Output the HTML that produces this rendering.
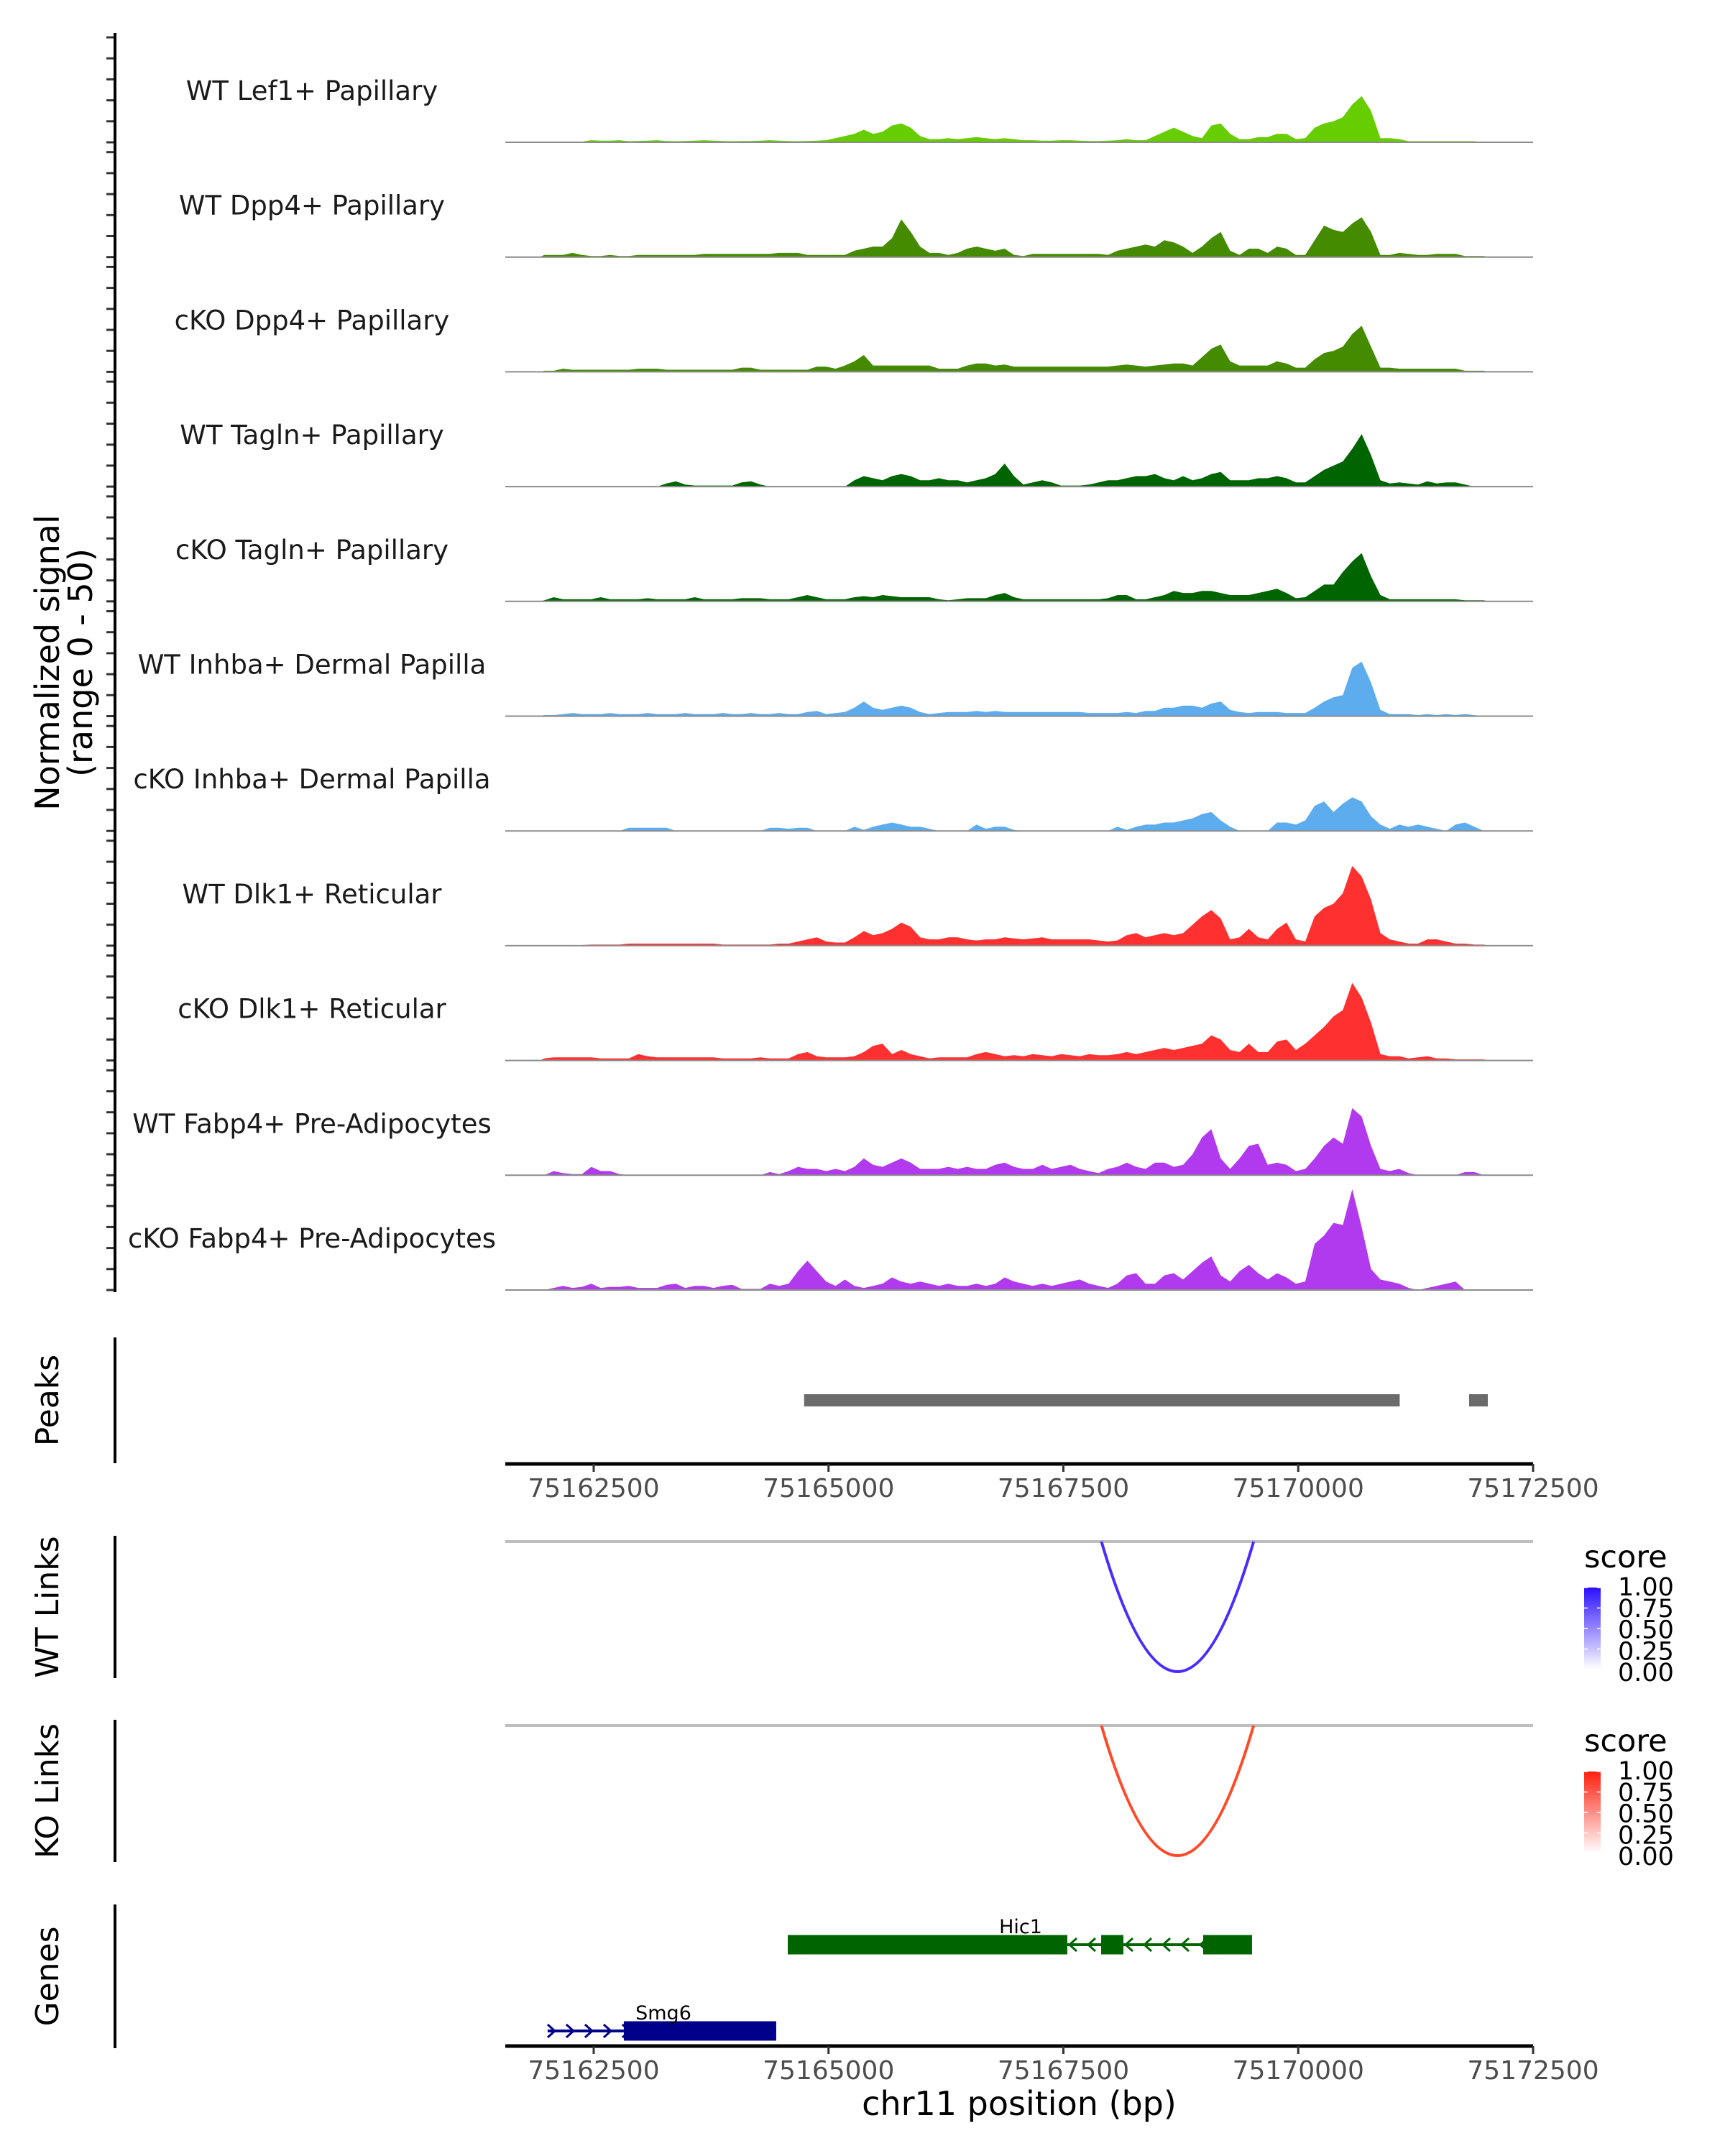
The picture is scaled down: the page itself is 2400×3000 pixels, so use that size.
<!DOCTYPE html>
<html><head><meta charset="utf-8">
<style>
html,body{margin:0;padding:0;background:#fff;}
svg{display:block;font-family:"DejaVu Sans","Liberation Sans",sans-serif;}
</style></head>
<body>
<svg id="chart" width="2400" height="3000" viewBox="0 0 2400 3000" xmlns="http://www.w3.org/2000/svg">
<rect x="0" y="0" width="2400" height="3000" fill="#fff"/>
<defs>
<linearGradient id="gBlue" x1="0" y1="1" x2="0" y2="0"><stop offset="0" stop-color="#ffffff"/><stop offset="1" stop-color="#2a10ff"/></linearGradient>
<linearGradient id="gRed" x1="0" y1="1" x2="0" y2="0"><stop offset="0" stop-color="#ffffff"/><stop offset="1" stop-color="#ff2010"/></linearGradient>
</defs>
<g id="tracks"></g>
<g id="yaxis"></g>
<text transform="translate(82,922) rotate(-90)" text-anchor="middle" font-size="46" fill="#000">Normalized signal</text>
<text transform="translate(128,922) rotate(-90)" text-anchor="middle" font-size="46" fill="#000">(range 0 - 50)</text>
<g id="lower"></g>
</svg>
<script>
// ---- data ----
const trackNames = ["WT Lef1+ Papillary","WT Dpp4+ Papillary","cKO Dpp4+ Papillary","WT Tagln+ Papillary","cKO Tagln+ Papillary","WT Inhba+ Dermal Papilla","cKO Inhba+ Dermal Papilla","WT Dlk1+ Reticular","cKO Dlk1+ Reticular","WT Fabp4+ Pre-Adipocytes","cKO Fabp4+ Pre-Adipocytes"];
const trackColors = ["#66cd00","#458b00","#458b00","#006400","#006400","#5cacee","#5cacee","#ff3030","#ff3030","#b23aee","#b23aee"];
const binStart = 75161925;
const binSize = 100;
const sigLef1WT = [.3,.3,.3,.3,.3,1,.8,.8,1,.5,.6,.8,1,.6,.5,.6,.8,1,.8,.6,.5,.6,.6,.8,1,.8,.6,.5,.6,.8,1,2,3,4,6,4,5,8,9,7,3,1.5,1.5,2,1.5,2,2.5,2,1.5,2,1.5,1,1,.8,.8,1,1,.8,.6,.6,.8,1,1.5,1,1,3,5,7,5,3,2,8,9,4,1.5,1.5,2.5,2.5,4,4,1.5,2,7,9,10,12,18,22,15,2,2,1.5,.5,.5,.5,.5,.5,.5,.5,.5,0];
const sigDpp4WT = [1,1,1,2,1,.5,.5,1,.5,.5,1,1,1,1,1,1,1,1.5,1.5,1.5,1.5,1.5,1.5,1.5,1.5,2,2,2,1,1,1,1,1,3,4,5,5,9,18,12,5,2,2,1,2,4,5,4,3,4,1,.5,1.5,1.5,1.5,1.5,1.5,1.5,1.5,1.5,1,3,4,5,6,5,8,7,5,2,5,9,12,3,1,4,4,2,5,4,1,1,8,15,13,12,16,19,12,1,1,2,1.5,1,1,1.5,1.5,1.5,.5,.5,.5];
const sigDpp4KO = [.5,.5,1.5,1,1,1,1,1,1,1,1.5,1.5,1.5,1,1,1,1,1,1,1,1,2,2,1,1,1,1,1,1,2.5,2.5,1.5,3,5,8,3,3,3,3,3,3,3,1.5,1.5,1.5,3,4,4,3,3.5,2.5,2.5,2.5,2.5,2.5,2.5,2.5,2.5,2.5,2.5,2.5,3,3.5,3,2.5,3,3.5,4,4,3,7,11,13,5,3,3,3,3,5,4,2,2,6,9,10,12,18,22,12,2,2,1.5,1.5,1.5,1.5,1.5,1.5,1.5,.5,.5,.5];
const sigTaglnWT = [0,0,0,0,0,0,0,0,0,0,0,0,0,1.5,2.5,1,.5,.5,.5,.5,.5,2,2.5,1,0,0,0,0,0,0,0,0,0,3,5,4,3,5,6,5,3,3,4,3,3,2,3,4,6,11,5,1,2,3,2,.5,.5,.5,1,2,3,3,4,5,5,6,4,3,5,3,4,6,7,3,3,3,4,4,5,4,2,2,5,8,10,12,18,25,15,3,1.5,2,1.5,1,2.5,1.5,2,2,1,0,0];
const sigTaglnKO = [.5,2,1,1,1,1,2,1,1,1,1,1.5,1,1,1,1,2,1,1,1,1,1.5,1.5,1.5,1,1,1,2,3,2,1,1,1,2,2.5,2,3,2.5,2,2,2,2,1,.5,1,1.5,1.5,1.5,3,4,2,1,1,1,1,1,1,1,1,1,1.5,3,3,1,1,2,3,5,4,4,5,5,4,3,3,3,4,5,6,4,1.5,2,5,8,8,14,19,23,12,3,1,1,1,1,1,1,1,1,.5,.5,.5];
const sigInhbaWT = [.5,.5,1,1.5,1,1,1,1.5,1,1,1,1.5,1,1,1,1.5,1,1,1,1.5,1,1,1.5,1,1,1.5,1,1,2,2.5,1,1.5,2,4,7,4,3,4,5,4,2,1,1.5,2,2,2,2.5,2,2.5,2,2,2,2,2,2,2,2,2,1.5,1.5,1.5,1.5,2,1.5,2.5,2.5,4,4,5,5,4,6,7,3,2,1.5,2,2,2,1.5,1.5,1.5,4,7,9,10,23,26,16,3,1,1,1,.5,1,.5,1,.5,1,.5,0];
const sigInhbaKO = [0,0,0,0,0,0,0,0,0,1.5,1.5,1.5,1.5,1.5,0,0,0,0,0,0,0,0,0,0,1.5,1.5,1,1.5,1.5,0,0,0,0,2,.5,2,3,4,3,2,2,1,0,0,0,0,3,1,2,2,.5,0,0,0,0,0,0,0,0,0,0,2,.5,2,3,3,4,4,5,6,8,9,5,2,0,0,0,0,4,4,3,5,12,14,9,13,16,14,7,3,1,3,2,3,2,1,0,3,4,2,0];
const sigDlk1WT = [.3,.3,.3,.3,.3,.5,.5,.5,.5,1,1,1,1,1,1,1,1,1,1,.5,.5,.5,.5,.5,.5,1,1,2,3,4,2,1.5,1.5,4,7,5,6,8,11,9,4,3,3,4,4,3,2.5,3,3,4,3.5,3,3.5,4,3,3,3,3,3,2.5,2,2.5,5,6,4,5,6,5,6,10,14,17,13,3,4,8,4,3,8,11,3,2,14,18,20,25,38,33,22,6,3,2,1,1,3,3,2,1,1,.5,.5];
const sigDlk1KO = [1,1.5,1.5,1.5,1.5,1.5,1,1,1,1,3,2,1.5,1.5,1.5,1.5,1.5,1.5,1.5,1,1,1,1,1.5,1,1,1,3,4,2,1.5,1.5,1.5,2,4,7,8,3,5,3,2,1,1.5,1.5,1.5,1.5,3,4,3,2,2.5,2,3,2.5,2,3,2.5,2,3,2.5,2.5,3,4,3,4,5,6,5,6,7,8,12,10,5,4,8,4,4,9,10,5,8,12,16,21,24,37,30,18,3,2,2,1,1.5,2,1,1,.5,.5,.5,.5];
const sigFabp4WT = [0,2,1,.5,.5,4,2,2,.5,0,0,0,0,0,0,0,0,0,0,0,0,0,0,0,1.5,.5,2,4,3,3,2,3,2,4,8,5,4,6,8,6,3,3,3,4,3,4,3,3,5,6,4,3,3,5,3,4,5,3,2,1,3,4,6,4,3,6,6,4,5,10,18,22,8,3,8,14,15,5,6,5,2,3,8,14,18,15,32,28,14,3,2,3,1,0,0,0,0,0,1.5,1.5,0];
const sigFabp4KO = [0,1,2,1,1.5,3,1,1.5,1.5,2,1,1,1,2.5,3,1,2,2,1,2,2.5,.5,.5,.5,3,2,3,9,14,9,4,2,5,2,1,2,3,6,4,3,4,3,2,3,2,2,3,2,3,6,4,3,2,3,2,3,4,5,3,2,1,3,7,8,3,3,7,8,5,9,13,16,7,4,9,12,8,5,8,6,3,4,22,26,32,31,48,30,10,5,4,3,1,0,1,2,3,4,0,0,0];
const trackSignals = [sigLef1WT,sigDpp4WT,sigDpp4KO,sigTaglnWT,sigTaglnKO,sigInhbaWT,sigInhbaKO,sigDlk1WT,sigDlk1KO,sigFabp4WT,sigFabp4KO];
const xTicks = [75162500,75165000,75167500,75170000,75172500];
const xTickLabels = ["75162500","75165000","75167500","75170000","75172500"];
const peakStarts = [75164740,75171819];
const peakEnds = [75171080,75172018];
const linkStarts = [75167905];
const linkEnds = [75169525];
const linkScores = [1.0];
const legendTicks = [0,0.25,0.5,0.75,1];
const legendTickLabels = ["0.00","0.25","0.50","0.75","1.00"];
const hic1Exons = [[75164566,75167542],[75167902,75168139],[75168988,75169508]];
const hic1Span = [75164566,75169508];
const smg6Exons = [[75162821,75164443]];
const smg6Span = [75162010,75164443];

// ---- scales ----
const NS = "http://www.w3.org/2000/svg";
const X0 = 703, X1 = 2133, BP0 = 75161559, BP1 = 75172500;
function xs(bp){ return X0 + (bp - BP0) / (BP1 - BP0) * (X1 - X0); }
const TRACK_H = 146, YMAX = 50;
function baseY(k){ return 198 + 159.7 * k; }
function ys(k, v){ return baseY(k) - Math.min(v, YMAX) / YMAX * TRACK_H; }
function mk(tag, attrs, parent){
  const e = document.createElementNS(NS, tag);
  for (const a in attrs) e.setAttribute(a, attrs[a]);
  parent.appendChild(e); return e;
}

// ---- coverage tracks ----
const tracksG = document.getElementById('tracks');
const yaxisG = document.getElementById('yaxis');
trackNames.forEach((name, k) => {
  const g = mk('g', {}, tracksG);
  
  
  const vals = trackSignals[k];
  const b = baseY(k);
  let d = 'M' + xs(binStart).toFixed(1) + ',' + b.toFixed(1);
  for (let i = 0; i < vals.length; i++) {
    const cx = xs(binStart + binSize * i + binSize / 2);
    d += ' L' + cx.toFixed(1) + ',' + ys(k, vals[i]).toFixed(1);
  }
  d += ' L' + xs(binStart + binSize * vals.length).toFixed(1) + ',' + b.toFixed(1) + ' Z';
  const area = mk('path', {d: d, fill: trackColors[k], stroke: 'none'}, g);
  
  
  const bl = mk('line', {x1: X0, x2: X1, y1: b, y2: b, stroke: '#8c8c8c', 'stroke-width': 2}, g);
  
  
  const t = mk('text', {x: 434, y: (b - 59).toFixed(1), 'text-anchor': 'middle', 'font-size': 37, fill: '#1a1a1a'}, g);
  t.textContent = name;
  
  
  for (let v = 0; v <= YMAX; v += 10) {
    const ty = ys(k, v);
    const tk = mk('line', {x1: 148, x2: 160, y1: ty, y2: ty, stroke: '#333', 'stroke-width': 3}, yaxisG);
    
    
  }
});
const yl = mk('line', {x1: 160, x2: 160, y1: 46, y2: baseY(10) + 3, stroke: '#000', 'stroke-width': 4}, yaxisG);



// ---- lower panels ----
const lower = document.getElementById('lower');
function sideLabel(txt, y0, y1, name){
  const l = mk('line', {x1: 160, x2: 160, y1: y0, y2: y1, stroke: '#000', 'stroke-width': 4}, lower);
  
  
  const t = mk('text', {transform: 'translate(81,' + ((y0 + y1) / 2) + ') rotate(-90)', 'text-anchor': 'middle', 'font-size': 44, fill: '#000'}, lower);
  t.textContent = txt;
  
  
}
function xAxis(y, name){
  const g = mk('g', {}, lower);
  
  
  mk('line', {x1: X0, x2: X1, y1: y, y2: y, stroke: '#000', 'stroke-width': 5}, g);
  xTicks.forEach((bp, i) => {
    const x = xs(bp);
    mk('line', {x1: x, x2: x, y1: y, y2: y + 11, stroke: '#333', 'stroke-width': 3}, g);
    const t = mk('text', {x: x, y: y + 46, 'text-anchor': 'middle', 'font-size': 36, fill: '#4d4d4d'}, g);
    t.textContent = xTickLabels[i];
    
    
  });
}

// Peaks
sideLabel('Peaks', 1861, 2036, 'peaks');
peakStarts.forEach((s, i) => {
  const r = mk('rect', {x: xs(s), y: 1940, width: xs(peakEnds[i]) - xs(s), height: 17, fill: '#6b6b6b'}, lower);
  
  
});
xAxis(2037, 'peaks-x-axis');

// Links
function linkPanel(top, label, name, color, grad, legendTop){
  sideLabel(label, top - 8, top + 190, name);
  const gl = mk('line', {x1: X0, x2: X1, y1: top, y2: top, stroke: '#bebebe', 'stroke-width': 4}, lower);
  
  
  linkStarts.forEach((s, i) => {
    const xa = xs(s), xb = xs(linkEnds[i]);
    const depth = 181 * linkScores[i];
    const p = mk('path', {d: 'M' + xa + ',' + top + ' Q' + ((xa + xb) / 2) + ',' + (top + 2 * depth) + ' ' + xb + ',' + top, fill: 'none', stroke: color, 'stroke-width': 4}, lower);
    
    
  });
  const lg = mk('g', {}, lower);
  
  
  const tt = mk('text', {x: 2204, y: legendTop, 'font-size': 43, fill: '#000'}, lg);
  tt.textContent = 'score';
  const barTop = legendTop + 28, barH = 114;
  mk('rect', {x: 2204, y: barTop, width: 23, height: barH, fill: 'url(#' + grad + ')'}, lg);
  legendTicks.forEach((v, i) => {
    const ty = barTop + barH - v * barH;
    mk('line', {x1: 2204, x2: 2209, y1: ty, y2: ty, stroke: '#fff', 'stroke-width': 1.5}, lg);
    mk('line', {x1: 2222, x2: 2227, y1: ty, y2: ty, stroke: '#fff', 'stroke-width': 1.5}, lg);
    const t = mk('text', {x: 2251, y: legendTop + 158 - v * 119, 'font-size': 35, fill: '#000'}, lg);
    t.textContent = legendTickLabels[i];
  });
}
linkPanel(2145, 'WT Links', 'wt-links', '#4a2cff', 'gBlue', 2181);
linkPanel(2401, 'KO Links', 'ko-links', '#ff4a2a', 'gRed', 2437);

// Genes
sideLabel('Genes', 2650, 2850, 'genes');
function gene(nm, span, exons, y, color, dir, labelX){
  const g = mk('g', {}, lower);
  
  
  mk('line', {x1: xs(span[0]), x2: xs(span[1]), y1: y, y2: y, stroke: color, 'stroke-width': 4}, g);
  for (let x = xs(span[0]) + 6; x < xs(span[1]) - 6; x += 26) {
    const d = dir > 0 ? 'M' + (x - 6) + ',' + (y - 9) + ' L' + (x + 4) + ',' + y + ' L' + (x - 6) + ',' + (y + 9)
                      : 'M' + (x + 6) + ',' + (y - 9) + ' L' + (x - 4) + ',' + y + ' L' + (x + 6) + ',' + (y + 9);
    mk('path', {d: d, fill: 'none', stroke: color, 'stroke-width': 3}, g);
  }
  exons.forEach(e => {
    mk('rect', {x: xs(e[0]), y: y - 13.5, width: xs(e[1]) - xs(e[0]), height: 27, fill: color}, g);
  });
  const t = mk('text', {x: labelX, y: y - 16, 'text-anchor': 'middle', 'font-size': 27, fill: '#000'}, g);
  t.textContent = nm;
}
gene('Hic1', hic1Span, hic1Exons, 2706, '#006400', -1, 1420);
gene('Smg6', smg6Span, smg6Exons, 2826, '#00008b', 1, 923);
xAxis(2847, 'genes-x-axis');
const xt = mk('text', {x: 1418, y: 2943, 'text-anchor': 'middle', 'font-size': 46, fill: '#000'}, lower);
xt.textContent = 'chr11 position (bp)';


</script>
</body></html>
